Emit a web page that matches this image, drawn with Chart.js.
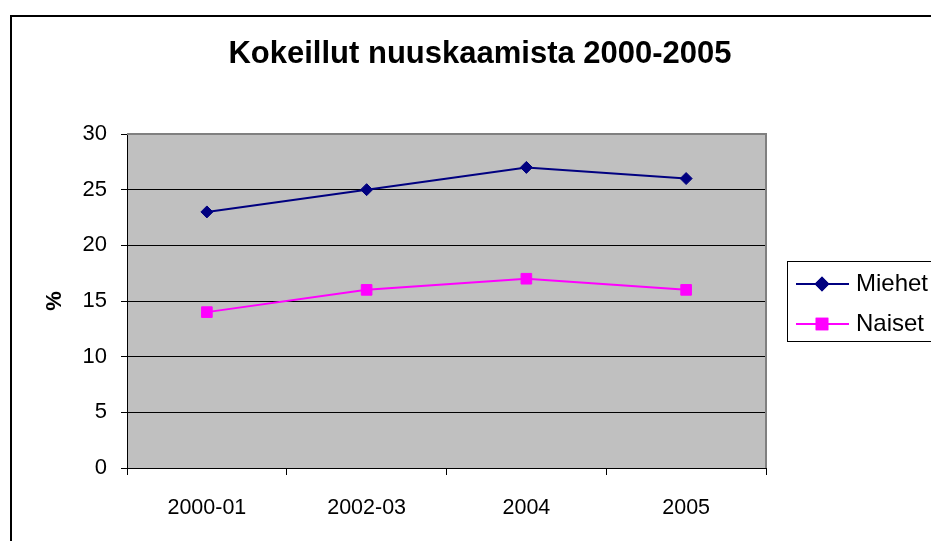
<!DOCTYPE html>
<html>
<head>
<meta charset="utf-8">
<script src="https://cdn.jsdelivr.net/npm/chart.js@4.4.1/dist/chart.umd.min.js"></script>
<style>
  html, body { margin: 0; padding: 0; background: #fff; }
  canvas { display: block; }
</style>
</head>
<body>
<canvas id="lineChart" width="931" height="541"></canvas>
<script>
const FONT = '"Liberation Sans", Arial, sans-serif';

const chartTitle = 'Kokeillut nuuskaamista 2000-2005';
const categories = ['2000-01', '2002-03', '2004', '2005'];
const miehet = [23, 25, 27, 26];
const naiset = [14, 16, 17, 16];
const yTicks = [0, 5, 10, 15, 20, 25, 30];

// plot background, outer border, title and legend box like the Excel original
const excelLook = {
    id: 'excelLook',
    beforeDraw(chart) {
        const {ctx, chartArea: a} = chart;
        ctx.save();
        ctx.fillStyle = '#fff';
        ctx.fillRect(0, 0, chart.width, chart.height);
        ctx.strokeStyle = '#000';
        ctx.lineWidth = 2;
        ctx.strokeRect(11, 16, 1000, 1000);
        ctx.fillStyle = '#c0c0c0';
        ctx.fillRect(a.left, a.top, a.right - a.left, a.bottom - a.top);
        ctx.fillStyle = '#000';
        ctx.font = 'bold 31px ' + FONT;
        ctx.textAlign = 'center';
        ctx.textBaseline = 'alphabetic';
        ctx.fillText(chartTitle, 480, 63);
        ctx.restore();
    },
    beforeDatasetsDraw(chart) {
        const {ctx, chartArea: a} = chart;
        ctx.save();
        ctx.strokeStyle = '#808080';
        ctx.lineWidth = 2;
        ctx.beginPath();
        ctx.moveTo(a.left, a.top);
        ctx.lineTo(a.right, a.top);
        ctx.lineTo(a.right, a.bottom);
        ctx.stroke();
        ctx.restore();
    },
    afterDraw(chart) {
        const {ctx} = chart;
        ctx.save();
        ctx.strokeStyle = '#000';
        ctx.lineWidth = 1;
        ctx.strokeRect(787.5, 261.5, 200, 80);
        chart.data.datasets.forEach((ds, i) => {
            const y = 284 + i * 40;
            ctx.strokeStyle = ds.borderColor;
            ctx.lineWidth = 2;
            ctx.beginPath();
            ctx.moveTo(796, y);
            ctx.lineTo(849, y);
            ctx.stroke();
            Chart.helpers.drawPoint(ctx, {
                pointStyle: ds.pointStyle,
                radius: ds.pointRadius,
                borderWidth: 1
            }, 822, y);
            ctx.fillStyle = ds.pointBackgroundColor;
            ctx.strokeStyle = ds.borderColor;
            ctx.fill();
            ctx.stroke();
            ctx.fillStyle = '#000';
            ctx.font = '24px ' + FONT;
            ctx.textAlign = 'left';
            ctx.textBaseline = 'middle';
            ctx.fillText(ds.label, 856, y);
        });
        ctx.restore();
    }
};

const ctx = document.getElementById('lineChart').getContext('2d');
const myChart = new Chart(ctx, {
    type: 'line',
    data: {
        labels: categories,
        datasets: [{
            label: 'Miehet',
            data: miehet,
            borderColor: '#000080',
            backgroundColor: '#000080',
            pointBackgroundColor: '#000080',
            pointBorderColor: '#000080',
            pointStyle: 'rectRot',
            pointRadius: 6,
            pointBorderWidth: 1,
            borderWidth: 2,
            tension: 0
        }, {
            label: 'Naiset',
            data: naiset,
            borderColor: '#ff00ff',
            backgroundColor: '#ff00ff',
            pointBackgroundColor: '#ff00ff',
            pointBorderColor: '#ff00ff',
            pointStyle: 'rect',
            pointRadius: 7.5,
            pointBorderWidth: 1,
            borderWidth: 2,
            tension: 0
        }]
    },
    options: {
        responsive: false,
        animation: false,
        layout: {
            padding: {left: 0, right: 165, top: 134, bottom: 0}
        },
        plugins: {
            legend: {display: false},
            title: {display: false},
            tooltip: {enabled: false}
        },
        scales: {
            x: {
                offset: true,
                afterFit(scale) { scale.height = 73; },
                grid: {
                    offset: true,
                    drawOnChartArea: false,
                    drawTicks: true,
                    tickLength: 7,
                    color: '#000'
                },
                border: {color: '#000', width: 1},
                ticks: {
                    color: '#000',
                    padding: 20,
                    maxRotation: 0,
                    font: {family: FONT, size: 21.5}
                }
            },
            y: {
                min: 0,
                max: 30,
                afterFit(scale) { scale.width = 127; },
                afterBuildTicks(scale) {
                    scale.ticks = yTicks.map(v => ({value: v}));
                },
                grid: {
                    color: '#000',
                    tickLength: 6
                },
                border: {color: '#000', width: 1},
                ticks: {
                    color: '#000',
                    padding: 14,
                    font: {family: FONT, size: 22}
                },
                title: {
                    display: true,
                    text: '%',
                    color: '#000',
                    padding: {top: 42, bottom: 0},
                    font: {family: FONT, size: 22, weight: 'bold'}
                }
            }
        }
    },
    plugins: [excelLook]
});
</script>
</body>
</html>
